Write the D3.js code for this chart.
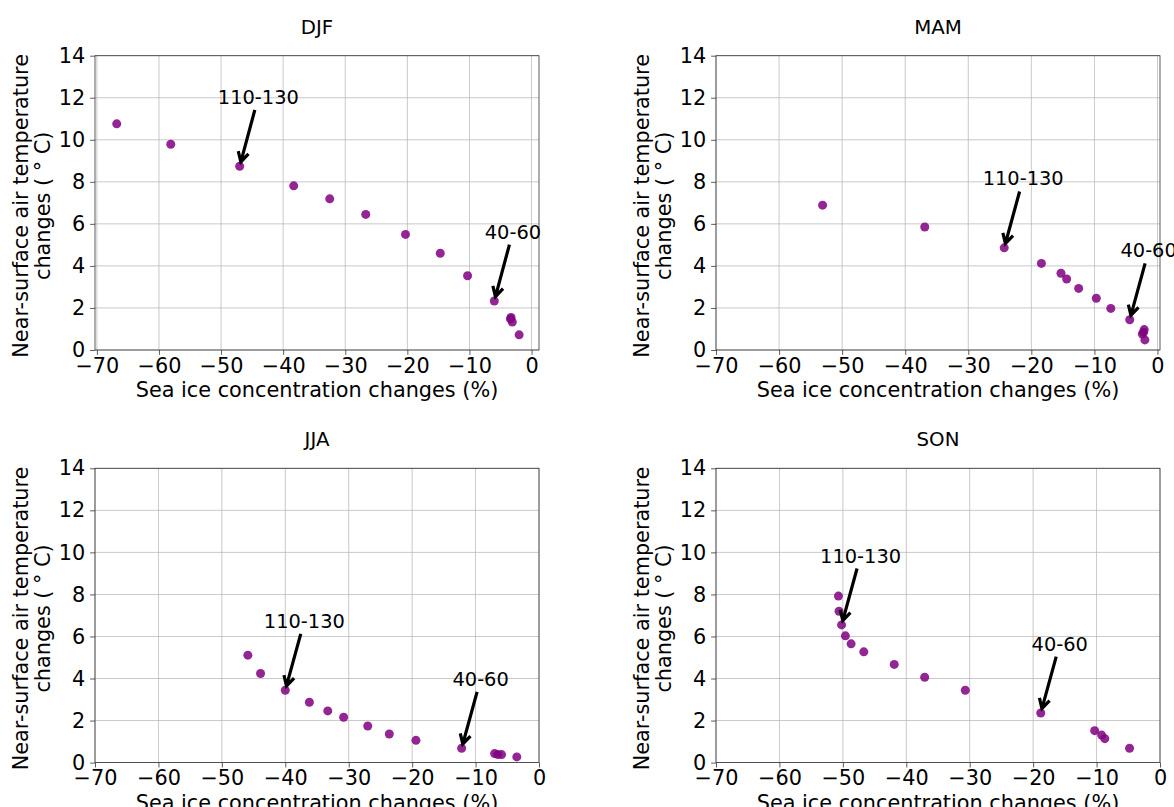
<!DOCTYPE html>
<html>
<head>
<meta charset="utf-8">
<script src="https://cdn.jsdelivr.net/npm/d3@7"></script>
<style>
  html, body { margin: 0; padding: 0; background: #fff; }
  svg { display: block; font-family: "DejaVu Sans", sans-serif; }
</style>
</head>
<body>
<svg id="chart" width="1174" height="807"></svg>
<script>
// ---- data ----
const seasons = ["DJF", "MAM", "JJA", "SON"];

const djfIce  = [-66.8, -58.1, -47.0, -38.3, -32.5, -26.7, -20.3, -14.7, -10.3, -6.0, -3.3, -3.4, -3.1, -2.0];
const djfTemp = [10.76, 9.79, 8.74, 7.81, 7.19, 6.45, 5.50, 4.60, 3.53, 2.33, 1.55, 1.48, 1.33, 0.72];

const mamIce  = [-53.1, -36.9, -24.3, -18.4, -15.3, -14.4, -12.5, -9.7, -7.4, -4.4, -2.1, -2.2, -2.4, -2.0];
const mamTemp = [6.89, 5.85, 4.86, 4.12, 3.65, 3.38, 2.93, 2.46, 1.98, 1.44, 0.97, 0.85, 0.76, 0.48];

const jjaIce  = [-45.9, -43.9, -40.0, -36.2, -33.3, -30.8, -27.0, -23.6, -19.4, -12.2, -7.0, -6.5, -5.9, -3.5];
const jjaTemp = [5.11, 4.24, 3.44, 2.87, 2.46, 2.16, 1.74, 1.36, 1.06, 0.68, 0.43, 0.38, 0.38, 0.27];

const sonIce  = [-50.7, -50.6, -50.2, -49.6, -48.7, -46.7, -41.9, -37.1, -30.7, -18.8, -10.3, -9.2, -8.7, -4.8];
const sonTemp = [7.92, 7.20, 6.55, 6.03, 5.65, 5.27, 4.67, 4.06, 3.44, 2.36, 1.52, 1.31, 1.14, 0.68];

const iceSeries  = [djfIce, mamIce, jjaIce, sonIce];
const tempSeries = [djfTemp, mamTemp, jjaTemp, sonTemp];

// axis limits per panel
const xLimits = [[-70.3, 1.2], [-70, 0.4], [-70, 0], [-70, 0]];
const yLimits = [0, 14];
const xTicks = [-70, -60, -50, -40, -30, -20, -10, 0];
const yTicks = [0, 2, 4, 6, 8, 10, 12, 14];

// annotations: label, index of annotated point, text offset (data units)
const annoLabels  = ["110-130", "40-60"];
const annoIndex   = [2, 9];
const annoOffset  = [3, 3.3];

const xLabel = "Sea ice concentration changes (%)";
const yLabel1 = "Near-surface air temperature";
const yLabel2 = "changes ( ° C)";

// ---- layout ----
const svg = d3.select("#chart");
const colLeft = [95, 716];
const rowTop = [55.7, 468.3];
const pw = 444, ph = 294.3;
const tickFont = 20.8, labelFont = 20.8, titleFont = 19.8, annoFont = 19.4;
const fmt = d => d < 0 ? "\u2212" + Math.abs(d) : String(d);

seasons.forEach((season, i) => {
  const left = colLeft[i % 2];
  const top = rowTop[Math.floor(i / 2)];
  const x = d3.scaleLinear().domain(xLimits[i]).range([left, left + pw]);
  const y = d3.scaleLinear().domain(yLimits).range([top + ph, top]);
  const g = svg.append("g");

  // grid
  const xt = xTicks.filter(t => t >= xLimits[i][0] && t <= xLimits[i][1]);
  g.append("g").selectAll("line").data(xt).join("line")
    .attr("x1", d => x(d)).attr("x2", d => x(d))
    .attr("y1", top).attr("y2", top + ph)
    .attr("stroke", "#b0b0b0").attr("stroke-width", 0.8).attr("opacity", 0.85);
  g.append("g").selectAll("line").data(yTicks).join("line")
    .attr("y1", d => y(d)).attr("y2", d => y(d))
    .attr("x1", left).attr("x2", left + pw)
    .attr("stroke", "#b0b0b0").attr("stroke-width", 0.8).attr("opacity", 0.85);

  // axes
  const xa = g.append("g").attr("transform", `translate(0,${top + ph})`)
    .call(d3.axisBottom(x).tickValues(xt).tickFormat(fmt).tickSize(4.9).tickPadding(3));
  const ya = g.append("g").attr("transform", `translate(${left},0)`)
    .call(d3.axisLeft(y).tickValues(yTicks).tickFormat(fmt).tickSize(4.9).tickPadding(4.9));
  [xa, ya].forEach(a => {
    a.select(".domain").remove();
    a.selectAll(".tick line").attr("stroke", "#333").attr("stroke-width", 0.8);
    a.selectAll(".tick text").attr("font-size", tickFont).attr("fill", "#000")
      .attr("font-family", "DejaVu Sans");
  });

  // spines
  g.append("rect").attr("x", left).attr("y", top).attr("width", pw).attr("height", ph)
    .attr("fill", "none").attr("stroke", "#333").attr("stroke-width", 0.8);

  // points
  const pts = iceSeries[i].map((v, k) => ({ ice: v, temp: tempSeries[i][k] }));
  g.append("g").selectAll("circle").data(pts).join("circle")
    .attr("cx", d => x(d.ice)).attr("cy", d => y(d.temp)).attr("r", 4.5)
    .attr("fill", "purple").attr("fill-opacity", 0.85);

  // annotations
  annoLabels.forEach((lab, j) => {
    const p = pts[annoIndex[j]];
    const px = x(p.ice), py = y(p.temp);
    const tx = x(p.ice + annoOffset[0]), ty = y(p.temp + annoOffset[1]);
    g.append("text").attr("x", tx).attr("y", ty + 7).attr("text-anchor", "middle")
      .attr("font-size", annoFont).attr("fill", "#000").text(lab);
    const dx = px - tx, dy = py - ty, len = Math.hypot(dx, dy);
    const ux = dx / len, uy = dy / len;
    const t0 = 13 / uy; // exit text box at 13px below center
    const sx = tx + ux * t0, sy = ty + uy * t0;
    const ex = px - ux * 4.5, ey = py - uy * 4.5;
    const hl = 11, ang = 0.5;
    const ca = Math.cos(ang), sa = Math.sin(ang);
    const b1x = ex - hl * (ux * ca - uy * sa), b1y = ey - hl * (uy * ca + ux * sa);
    const b2x = ex - hl * (ux * ca + uy * sa), b2y = ey - hl * (uy * ca - ux * sa);
    g.append("path")
      .attr("d", `M${sx},${sy}L${ex},${ey}M${b1x},${b1y}L${ex},${ey}L${b2x},${b2y}`)
      .attr("fill", "none").attr("stroke", "#000").attr("stroke-width", 3.2)
      .attr("stroke-linejoin", "miter").attr("stroke-linecap", "butt");
  });

  // title
  g.append("text").attr("x", left + pw / 2).attr("y", top - 22)
    .attr("text-anchor", "middle").attr("font-size", titleFont).text(season);

  // x label
  g.append("text").attr("x", left + pw / 2).attr("y", top + ph + 47.4)
    .attr("text-anchor", "middle").attr("font-size", labelFont).text(xLabel);

  // y label (two lines)
  const yl = g.append("g").attr("transform", `translate(${left - 45},${top + ph / 2 + 3}) rotate(-90)`);
  yl.append("text").attr("x", 0).attr("y", -22.5).attr("text-anchor", "middle")
    .attr("font-size", labelFont).text(yLabel1);
  yl.append("text").attr("x", 0).attr("y", 0).attr("text-anchor", "middle")
    .attr("font-size", labelFont).text(yLabel2);
});
</script>
</body>
</html>
